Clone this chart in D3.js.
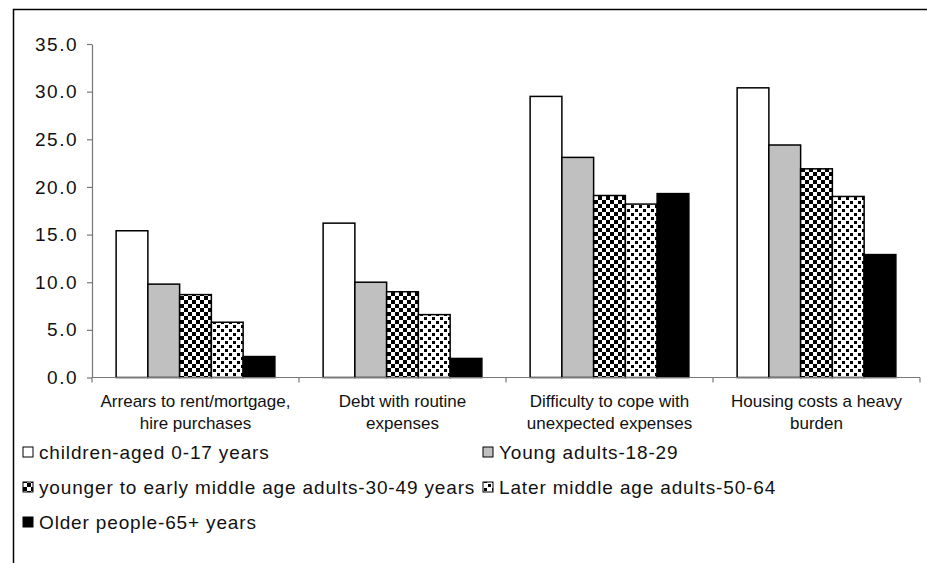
<!DOCTYPE html>
<html>
<head>
<meta charset="utf-8">
<script src="https://cdn.jsdelivr.net/npm/d3@7"></script>
<style>
  html, body { margin: 0; padding: 0; background: #fff; }
  svg { display: block; font-family: "Liberation Sans", Arial, sans-serif; }
</style>
</head>
<body>
<svg id="chart" width="927" height="563"></svg>
<script>
// Indicators (x categories), each label split over two lines
const categories = [
  "Arrears to rent/mortgage, hire purchases",
  "Debt with routine expenses",
  "Difficulty to cope with unexpected expenses",
  "Housing costs a heavy burden"
];
const categoryLines = [
  ["Arrears to rent/mortgage,", "hire purchases"],
  ["Debt with routine", "expenses"],
  ["Difficulty to cope with", "unexpected expenses"],
  ["Housing costs a heavy", "burden"]
];

// Age groups (series)
const series = [
  "children-aged 0-17 years",
  "Young adults-18-29",
  "younger to early middle age adults-30-49 years",
  "Later middle age adults-50-64",
  "Older people-65+ years"
];

// Percentages per age group, one value per indicator
const children = [15.4, 16.2, 29.5, 30.4];
const youngAdults = [9.8, 10.0, 23.1, 24.4];
const earlyMiddle = [8.7, 9.0, 19.1, 21.9];
const laterMiddle = [5.8, 6.6, 18.2, 19.0];
const older = [2.2, 2.0, 19.3, 12.9];
const seriesValues = [children, youngAdults, earlyMiddle, laterMiddle, older];

const yTicks = [0, 5, 10, 15, 20, 25, 30, 35];

const svg = d3.select("#chart");

// Fill patterns
const defs = svg.append("defs");
const checker = defs.append("pattern").attr("id", "checker")
  .attr("patternUnits", "userSpaceOnUse").attr("width", 8).attr("height", 8);
checker.append("rect").attr("width", 8).attr("height", 8).attr("fill", "#fff");
checker.append("rect").attr("x", 0).attr("y", 0).attr("width", 4).attr("height", 4).attr("fill", "#000");
checker.append("rect").attr("x", 4).attr("y", 4).attr("width", 4).attr("height", 4).attr("fill", "#000");

const dots = defs.append("pattern").attr("id", "dots")
  .attr("patternUnits", "userSpaceOnUse").attr("width", 8).attr("height", 8);
dots.append("rect").attr("width", 8).attr("height", 8).attr("fill", "#fff");
dots.append("rect").attr("x", 1).attr("y", 1).attr("width", 3).attr("height", 3).attr("fill", "#000");
dots.append("rect").attr("x", 5).attr("y", 5).attr("width", 3).attr("height", 3).attr("fill", "#000");

const fills = ["#ffffff", "#c0c0c0", "url(#checker)", "url(#dots)", "#000000"];

// Outer frame (runs past the right and bottom edges)
svg.append("rect")
  .attr("x", 13.5).attr("y", 9.5).attr("width", 1000).attr("height", 1000)
  .attr("fill", "none").attr("stroke", "#000").attr("stroke-width", 1.5);

const plot = { left: 92, right: 920, top: 44, bottom: 377.5 };

const y = d3.scaleLinear().domain([0, 35]).range([plot.bottom, plot.top]);
const x0 = d3.scaleBand().domain(categories).range([plot.left, plot.right]).padding(0);
const x1 = d3.scaleBand().domain(series).range([0, x0.bandwidth()])
  .paddingInner(0).paddingOuter(0.76);

// Bars
const groups = svg.append("g").selectAll("g")
  .data(categories)
  .join("g")
  .attr("transform", d => `translate(${x0(d)},0)`);

groups.selectAll("rect")
  .data((d, ci) => series.map((s, si) => ({ s, si, v: seriesValues[si][ci] })))
  .join("rect")
  .attr("x", d => x1(d.s))
  .attr("y", d => y(d.v))
  .attr("width", x1.bandwidth())
  .attr("height", d => y(0) - y(d.v))
  .attr("fill", d => fills[d.si])
  .attr("stroke", "#000")
  .attr("stroke-width", 1.5);

// Y axis
const yAxis = svg.append("g")
  .attr("transform", `translate(${plot.left},0)`)
  .call(d3.axisLeft(y).tickValues(yTicks).tickFormat(d3.format(".1f"))
    .tickSize(5).tickSizeOuter(0).tickPadding(9));
yAxis.select(".domain").attr("stroke", "#777").attr("stroke-width", 1.2);
yAxis.selectAll(".tick line").attr("stroke", "#777").attr("stroke-width", 1.2);
yAxis.selectAll(".tick text").attr("fill", "#111").attr("font-size", 19)
  .attr("letter-spacing", 1.5)
  .attr("font-family", "Liberation Sans, Arial, sans-serif");

// X axis: baseline plus tick marks at category boundaries
const boundaries = categories.map(c => x0(c)).concat([x0.range()[1]]);
const xAxis = svg.append("g");
xAxis.append("line")
  .attr("x1", plot.left).attr("x2", plot.right)
  .attr("y1", y(0)).attr("y2", y(0))
  .attr("stroke", "#777").attr("stroke-width", 1.2);
xAxis.selectAll("line.tick")
  .data(boundaries)
  .join("line")
  .attr("class", "tick")
  .attr("x1", d => d).attr("x2", d => d)
  .attr("y1", y(0)).attr("y2", y(0) + 5)
  .attr("stroke", "#777").attr("stroke-width", 1.2);

// Category labels
const catLabels = svg.append("g").selectAll("text")
  .data(categories)
  .join("text")
  .attr("x", d => x0(d) + x0.bandwidth() / 2)
  .attr("text-anchor", "middle")
  .attr("font-size", 17)
  .attr("fill", "#111");
catLabels.selectAll("tspan")
  .data((d, i) => categoryLines[i].map((t, li) => ({ t, li })))
  .join("tspan")
  .attr("x", function () { return d3.select(this.parentNode).attr("x"); })
  .attr("y", d => 407 + d.li * 21.5)
  .text(d => d.t);

// Legend: two columns, filled row by row
const legendCols = [23, 483];
const legendRows = [452, 487, 522];
const legend = svg.append("g").selectAll("g")
  .data(series)
  .join("g")
  .attr("transform", (d, i) => `translate(${legendCols[i % 2]},${legendRows[Math.floor(i / 2)]})`);
legend.append("rect")
  .attr("x", 0).attr("y", -5).attr("width", 10).attr("height", 10)
  .attr("fill", (d, i) => fills[i])
  .attr("stroke", "#000").attr("stroke-width", 1);
legend.append("text")
  .attr("x", 16).attr("y", 6.5)
  .attr("font-size", 19)
  .attr("letter-spacing", 0.85)
  .attr("fill", "#111")
  .text(d => d);
</script>
</body>
</html>
